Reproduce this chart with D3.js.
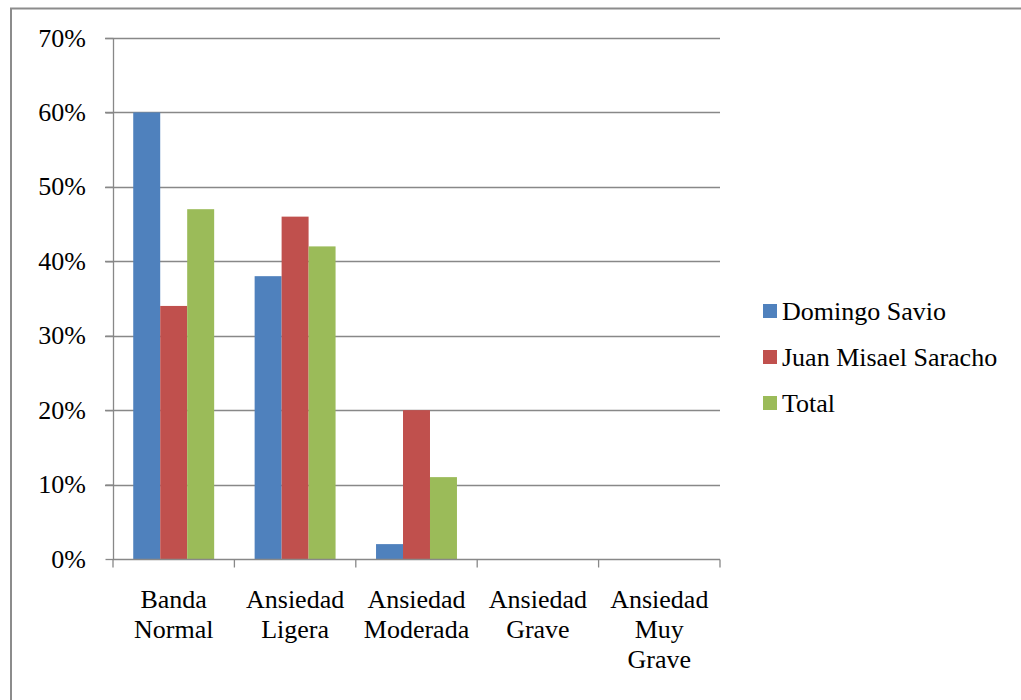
<!DOCTYPE html>
<html>
<head>
<meta charset="utf-8">
<script src="https://cdn.jsdelivr.net/npm/d3@7"></script>
</head>
<body style="margin:0">
<svg id="chart" width="1021" height="700"></svg>
<script>
// data
const categories = [["Banda", "Normal"], ["Ansiedad", "Ligera"], ["Ansiedad", "Moderada"], ["Ansiedad", "Grave"], ["Ansiedad", "Muy", "Grave"]];
const seriesNames = ["Domingo Savio", "Juan Misael Saracho", "Total"];
const domingoSavio = [0.60, 0.38, 0.02, 0, 0];
const juanMisael = [0.34, 0.46, 0.20, 0, 0];
const total = [0.47, 0.42, 0.11, 0, 0];
const yTicks = [0, 0.1, 0.2, 0.3, 0.4, 0.5, 0.6, 0.7];

const seriesValues = [domingoSavio, juanMisael, total];
const colors = ["#4f81bd", "#c0504d", "#9bbb59"];

const width = 1021, height = 700;
const margin = {left: 113, right: 301, top: 38, bottom: 141};

const svg = d3.select("#chart");

// every text goes through this so the serif face is set on the element itself
function serifText(sel) {
    return sel
        .attr("font-family", "Liberation Serif")
        .style("font-family", d => "'Liberation Serif'")
        .style("font-size", "26px");
}

// outer frame (only left and top visible)
svg.append("path")
    .attr("d", `M11,${height} L11,8.5 L${width},8.5`)
    .attr("fill", "none")
    .attr("stroke", "#8c8c8c")
    .attr("stroke-width", 2);

const x = d3.scaleBand()
    .domain(d3.range(categories.length))
    .range([margin.left, width - margin.right]);

const y = d3.scaleLinear()
    .domain([0, 0.7])
    .range([height - margin.bottom, margin.top]);

const barW = x.bandwidth() / 4.5;

// gridlines
svg.append("g")
    .selectAll("line")
    .data(yTicks.slice(1))
    .join("line")
    .attr("x1", margin.left - 8)
    .attr("x2", width - margin.right)
    .attr("y1", d => Math.round(y(d)) + 0.5)
    .attr("y2", d => Math.round(y(d)) + 0.5)
    .attr("stroke", "#888")
    .attr("stroke-width", 1.3);

// bars
const groups = svg.append("g")
    .selectAll("g")
    .data(seriesValues)
    .join("g")
    .attr("fill", (d, i) => colors[i]);

groups.selectAll("rect")
    .data((vals, si) => vals.map((v, ci) => ({v, ci, si})))
    .join("rect")
    .attr("x", d => x(d.ci) + barW * 0.75 + d.si * barW)
    .attr("width", barW)
    .attr("y", d => y(d.v))
    .attr("height", d => y(0) - y(d.v));

// y axis lines
const yAxis = svg.append("g")
    .attr("transform", `translate(${margin.left + 0.5},0)`)
    .call(d3.axisLeft(y).tickValues(yTicks).tickFormat("").tickSize(8));
yAxis.select(".domain").attr("stroke", "#888").attr("stroke-width", 1.3).attr("d", `M0,${margin.top}V${y(0)}`);
yAxis.selectAll(".tick line").attr("stroke", "#888").attr("stroke-width", 1.3);
yAxis.selectAll(".tick text").remove();

// y tick labels
const pct = d3.format(".0%");
svg.append("g")
    .selectAll("text")
    .data(yTicks)
    .join("text")
    .attr("x", margin.left - 27)
    .attr("y", d => y(d) + 8.5)
    .attr("text-anchor", "end")
    .attr("fill", "#000")
    .call(serifText)
    .text(d => pct(d));

// x axis
const xAxisG = svg.append("g")
    .attr("transform", `translate(0,${Math.round(y(0)) + 0.5})`);
xAxisG.append("line")
    .attr("x1", margin.left)
    .attr("x2", width - margin.right)
    .attr("stroke", "#888")
    .attr("stroke-width", 1.3);
xAxisG.selectAll(".xtick")
    .data(d3.range(categories.length + 1))
    .join("line")
    .attr("class", "xtick")
    .attr("x1", i => (i < categories.length ? x(i) : x(i - 1) + x.bandwidth()))
    .attr("x2", i => (i < categories.length ? x(i) : x(i - 1) + x.bandwidth()))
    .attr("y1", 0)
    .attr("y2", 8)
    .attr("stroke", "#888")
    .attr("stroke-width", 1.3);

// category labels, one text per line
const labelLines = categories.flatMap((lines, ci) => lines.map((t, li) => ({t, ci, li})));
svg.append("g")
    .selectAll("text")
    .data(labelLines)
    .join("text")
    .attr("x", d => x(d.ci) + x.bandwidth() / 2)
    .attr("y", d => 608 + d.li * 30)
    .attr("text-anchor", "middle")
    .attr("fill", "#000")
    .call(serifText)
    .text(d => d.t);

// legend
const legend = svg.append("g")
    .selectAll("g")
    .data(seriesNames)
    .join("g")
    .attr("transform", (d, i) => `translate(763,${311 + i * 46})`);

legend.append("rect")
    .attr("x", 0)
    .attr("y", -7)
    .attr("width", 14)
    .attr("height", 14)
    .attr("fill", (d, i) => colors[i]);

legend.append("text")
    .attr("x", 19)
    .attr("y", 8.5)
    .attr("fill", "#000")
    .call(serifText)
    .text(d => d);
</script>
</body>
</html>
